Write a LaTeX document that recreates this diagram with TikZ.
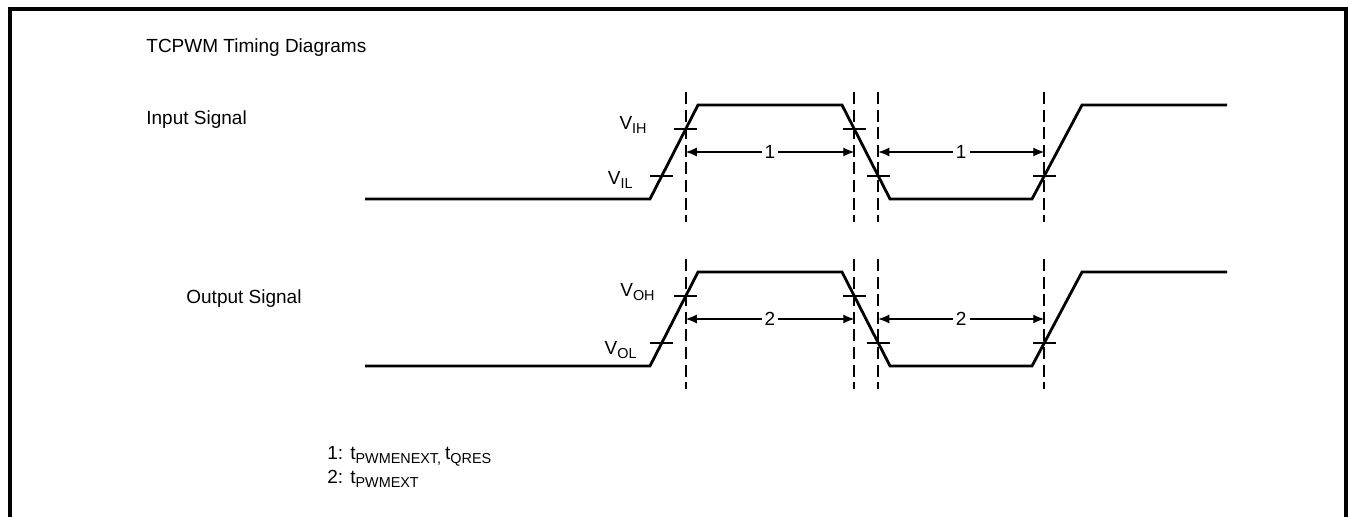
\documentclass[tikz,border=0pt]{standalone}
\usepackage{fontspec}
\setmainfont{Liberation Sans}
\usetikzlibrary{calc,arrows.meta}
\newcommand{\lowsub}[1]{\raisebox{-1.6pt}{\fontsize{7.2}{8}\selectfont #1}}

\tikzset{
  wave/.style={line width=1.4pt, line join=miter},
  guide/.style={line width=1.1pt, dash pattern=on 6pt off 2.8pt},
  tickmark/.style={line width=0.55pt},
  span/.style={line width=0.6pt, {Latex[length=5.5pt,width=4.5pt]}-{Latex[length=5.5pt,width=4.5pt]}},
  label/.style={anchor=base west, inner sep=0pt},
  level/.style={anchor=base east, inner sep=0pt},
}

\begin{document}
\begin{tikzpicture}[x=0.5pt,y=-0.5pt,font=\fontsize{9.5}{11}\selectfont]
   \useasboundingbox (0,0) rectangle (1348,517);
   \draw[line width=1.65pt] (10,530) -- (10,9) -- (1346,9) -- (1346,530);

   \node[label] (title) at (146,53) {TCPWM Timing Diagrams};

   \foreach \dy/\sig/\lx/\ly/\vh/\hx/\vl/\lz/\lly/\num in
      {0/Input Signal/146/125/IH/647/IL/633/185/1, 167/Output Signal/186/137/OH/655/OL/637/188/2} {
   \begin{scope}[shift={(0,\dy)}]
      % waveform
      \coordinate (a\num) at (365,199);
      \coordinate (b\num) at (650,199);
      \coordinate (c\num) at (698,105);
      \coordinate (d\num) at (842,105);
      \coordinate (e\num) at (890,199);
      \coordinate (f\num) at (1032,199);
      \coordinate (g\num) at (1082,105);
      \coordinate (h\num) at (1227,105);
      \draw[wave] (a\num) -- (b\num) -- (c\num) -- (d\num) -- (e\num) -- (f\num) -- (g\num) -- (h\num);

      % threshold crossings
      \coordinate (rh\num) at ($(b\num)!0.745!(c\num)$);
      \coordinate (rl\num) at ($(b\num)!0.245!(c\num)$);
      \coordinate (fh\num) at ($(d\num)!0.255!(e\num)$);
      \coordinate (fl\num) at ($(d\num)!0.755!(e\num)$);
      \coordinate (sl\num) at ($(f\num)!0.245!(g\num)$);
      \foreach \p in {rh,rl,fh,fl,sl}
         \draw[tickmark] ($(\p\num)+(-11.5,0)$) -- ($(\p\num)+(11.5,0)$);

      % dashed guides
      \coordinate (top\num) at (0,92);
      \coordinate (bot\num) at (0,222);
      \foreach \p in {rh,fh,fl,sl}
         \draw[guide] (\p\num |- top\num) -- (\p\num |- bot\num);

      % widths
      \coordinate (arr\num) at (0,152);
      \draw[span] (rh\num |- arr\num) -- node[fill=white, inner sep=1.5pt] (wa\num) {\num} (fh\num |- arr\num);
      \draw[span] (fl\num |- arr\num) -- node[fill=white, inner sep=1.5pt] (wb\num) {\num} (sl\num |- arr\num);

      % levels
      \node[level] (vh\num) at (\hx,130) {V\lowsub{\vh}};
      \node[level] (vl\num) at (\lz,\lly) {V\lowsub{\vl}};
      \node[label] (sig\num) at (\lx,\ly) {\sig};
   \end{scope}
   }

   \node[label] (key1) at (327,460) {1: t\lowsub{PWMENEXT, }t\lowsub{QRES}};
   \node[label] (key2) at (327,484) {2: t\lowsub{PWMEXT}};
\end{tikzpicture}
\end{document}
